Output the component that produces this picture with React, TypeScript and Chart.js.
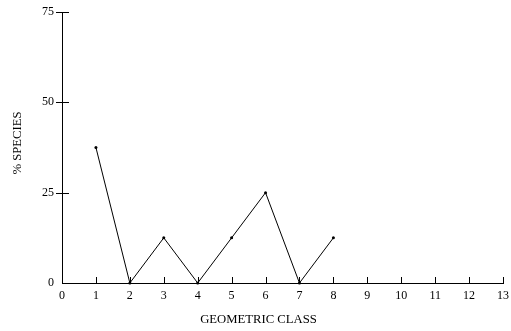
import React, { useEffect, useRef } from "react";
import { Chart, registerables } from "chart.js";

Chart.register(...registerables);

const classes = [1, 2, 3, 4, 5, 6, 7, 8];
const speciesPct = [37.5, 0, 12.5, 0, 12.5, 25, 0, 12.5];
const xTitle = "GEOMETRIC CLASS";
const yTitle = "% SPECIES";

const FONT = "'Liberation Serif', 'Times New Roman', serif";

const tickMarks = {
  id: "tickMarks",
  afterDraw(chart: any) {
    const { ctx, chartArea, scales } = chart;
    ctx.save();
    ctx.strokeStyle = "#000";
    ctx.lineWidth = 1;
    const ys = scales.y;
    ys.ticks.forEach((t: any) => {
      if (t.value === 0) return;
      const py = Math.round(ys.getPixelForValue(t.value)) + 0.5;
      ctx.beginPath();
      ctx.moveTo(chartArea.left - 6, py);
      ctx.lineTo(chartArea.left + 7, py);
      ctx.stroke();
    });
    const xs = scales.x;
    xs.ticks.forEach((t: any) => {
      if (t.value === 0) return;
      const px = Math.round(xs.getPixelForValue(t.value)) + 0.5;
      ctx.beginPath();
      ctx.moveTo(px, chartArea.bottom - 6);
      ctx.lineTo(px, chartArea.bottom);
      ctx.stroke();
    });
    // axis titles
    ctx.fillStyle = "#000";
    ctx.font = `12.7px ${FONT}`;
    ctx.textAlign = "center";
    ctx.textBaseline = "middle";
    ctx.fillText(xTitle, 258.5, 320);
    ctx.translate(18, 143);
    ctx.rotate(-Math.PI / 2);
    ctx.fillText(yTitle, 0, 0);
    ctx.restore();
  },
};

export default function App() {
  const ref = useRef<HTMLCanvasElement>(null);
  useEffect(() => {
    if (!ref.current) return;
    const chart = new Chart(ref.current, {
      type: "line",
      data: {
        datasets: [
          {
            data: classes.map((c, i) => ({ x: c, y: speciesPct[i] })),
            borderColor: "#000",
            backgroundColor: "#000",
            borderWidth: 1,
            pointRadius: 1.5,
            pointBorderWidth: 0,
            pointBackgroundColor: "#000",
            tension: 0,
            clip: false as any,
          },
        ],
      },
      options: {
        animation: false,
        responsive: true,
        maintainAspectRatio: false,
        layout: { padding: { top: 12, right: 8, left: 0, bottom: 0 } },
        plugins: { legend: { display: false }, tooltip: { enabled: false } },
        scales: {
          x: {
            type: "linear",
            min: 0,
            max: 13,
            afterFit: (s: any) => {
              s.height = 48;
              s.paddingLeft = 0;
              s.paddingRight = 0;
            },
            grid: { display: false, drawTicks: false },
            border: { display: true, color: "#000", width: 1 },
            ticks: {
              stepSize: 1,
              padding: 6,
              color: "#000",
              font: { family: FONT, size: 12 },
              maxRotation: 0,
              autoSkip: false,
            },
          },
          y: {
            type: "linear",
            min: 0,
            max: 75,
            afterFit: (s: any) => {
              s.width = 62;
              s.paddingTop = 0;
              s.paddingBottom = 0;
            },
            grid: { display: false, drawTicks: false },
            border: { display: true, color: "#000", width: 1 },
            ticks: {
              stepSize: 25,
              padding: 8,
              color: "#000",
              font: { family: FONT, size: 12 },
            },
          },
        },
      },
      plugins: [tickMarks],
    });
    return () => chart.destroy();
  }, []);
  return (
    <div style={{ position: "absolute", left: 0, top: 0, width: 511, height: 331 }}>
      <canvas ref={ref} />
    </div>
  );
}
